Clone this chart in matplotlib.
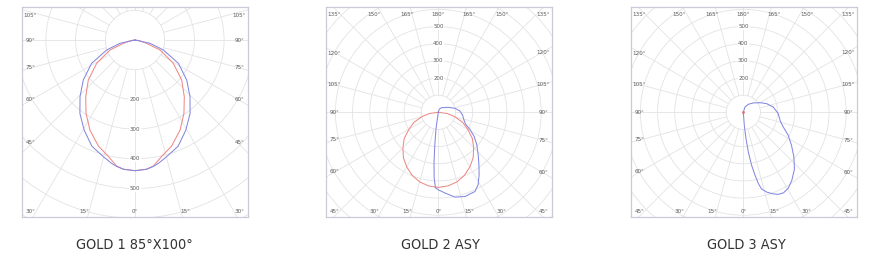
"""Three photometric polar diagrams (GOLD 1 / 2 / 3), drawn on plain axes
with the polar grid clipped to a rectangular frame."""
import numpy as np
import matplotlib
matplotlib.use("Agg")
import matplotlib.pyplot as plt
from matplotlib.patches import Circle

W, H = 883, 278
FONT = dict(family="DejaVu Sans", stretch="condensed")

# angles in degrees from nadir (0 = straight down, + = right side), intensity in cd
# GOLD 1 85°X100° - both planes symmetric, half-plane readings
G1_BLUE_ANG = [0, 5, 8.3, 10.7, 15.2, 22.1, 29.5, 36.9, 44.1, 52.3, 61.7, 70.6, 77.5, 90]
G1_BLUE_CD = [440, 437, 430, 423, 407, 386, 348, 309, 266, 220, 166, 101, 52, 0]
G1_RED_ANG = [0, 5, 8.3, 12.9, 19, 26.6, 33.7, 41, 49.4, 58.7, 68.2, 74, 82, 90]
G1_RED_CD = [440, 437, 429, 402, 378, 339, 297, 253, 207, 151, 91, 41, 15, 0]

# GOLD 2 ASY - red plane symmetric (half-plane), blue plane asymmetric
G2_RED_ANG = [0, 7.5, 15, 22.5, 30, 37.5, 45, 52.5, 60, 67.5, 75, 82.5, 90]
G2_RED_CD = [438, 433, 420, 398, 368, 334, 292, 250, 198, 154, 100, 52, 0]
G2_BLUE_ANG = [-12, -8, -6, -4.8, -3.6, -2.2, 0, 4.7, 11.1, 17.6, 24.8, 28.8,
               33.2, 37.7, 43.2, 49.8, 55.9, 61.8, 66.3, 73.4, 83.7, 93.5,
               103.5, 116.6, 144.5, 163, 180]
G2_BLUE_CD = [0, 95, 200, 300, 384, 440, 452, 472, 504, 515, 509, 482,
              435, 387, 340, 294, 253, 209, 174, 156, 142, 126,
              100, 65, 33, 20, 0]

# GOLD 3 ASY - red plane is only a dot at the origin
G3_RED_ANG = [0]
G3_RED_CD = [0]
G3_BLUE_ANG = [0, 4.4, 5.8, 7.2, 8.9, 10.5, 11.9, 13.4, 16.5, 20, 23, 26.5, 30.7,
               35.4, 42, 48.6, 55.7, 62.9, 69.9, 76.5, 87.8, 100, 110.4, 120.1,
               133, 148, 162.6, 180]
G3_BLUE_CD = [0, 76, 154, 232, 312, 372, 424, 460, 486, 506, 520, 525, 514,
              488, 446, 393, 340, 294, 248, 222, 204, 177, 145, 112,
              80, 55, 32, 0]

TITLES = ["GOLD 1 85°X100°", "GOLD 2 ASY", "GOLD 3 ASY"]
RING_LABELS = [200, 300, 400, 500]

BLUE, RED = "#8488e0", "#ee8a86"
GRID, FRAME, TXT = "#e3e3e6", "#c9ccd8", "#5a5a5a"


def mirror(ang, cd):
    return ([-a for a in ang[:0:-1]] + list(ang), list(cd[:0:-1]) + list(cd))


def to_xy(ang, cd):
    a = np.radians(ang)
    cd = np.asarray(cd, float)
    return cd * np.sin(a), -cd * np.cos(a)


def panel(fig, frame, centre, scale, rmax, ring_dir, angles, curves, title, tx):
    x0, y0, x1, y1 = frame
    cx, cy = centre
    ax = fig.add_axes([x0 / W, 1 - y1 / H, (x1 - x0) / W, (y1 - y0) / H])
    ax.set_xlim((x0 - cx) / scale, (x1 - cx) / scale)
    ax.set_ylim((cy - y1) / scale, (cy - y0) / scale)
    ax.set_xticks([]); ax.set_yticks([])
    for s in ax.spines.values():
        s.set_color(FRAME); s.set_linewidth(0.9)

    # polar grid
    for r in range(100, rmax + 1, 100):
        ax.add_patch(Circle((0, 0), r, fill=False, ec=GRID, lw=0.6, zorder=1))
    for a in range(0, 360, 15):
        xs, ys = to_xy([a, a], [100, rmax])
        ax.plot(xs, ys, color=GRID, lw=0.6, zorder=1)

    for ang, cd, col in curves:
        xs, ys = to_xy(ang, cd)
        if len(ang) == 1:
            ax.plot(xs, ys, "o", color=col, ms=1.2, zorder=3)
        else:
            ax.plot(xs, ys, color=col, lw=0.75, zorder=3)

    for v in RING_LABELS:
        ax.text(0, ring_dir * v, str(v), ha="center", va="center", fontsize=4.3,
                color=TXT, zorder=4, bbox=dict(fc="white", ec="none", pad=0.4),
                **FONT)

    # angle labels along the frame
    for a in angles:
        dx, dy = np.sin(np.radians(a)), np.cos(np.radians(a))  # dy: pixels down
        tx_side = (x0 - cx) / dx if dx < -1e-9 else (x1 - cx) / dx if dx > 1e-9 else np.inf
        ty_side = (y1 - cy) / dy if dy > 1e-9 else (y0 - cy) / dy if dy < -1e-9 else np.inf
        if tx_side < ty_side:
            px = x0 + 8.5 if dx < 0 else x1 - 8.5
            t = ((x0 + 10) - cx) / dx if dx < 0 else ((x1 - 10) - cx) / dx
            py = min(max(cy + dy * t, y0 + 8.5), y1 - 5.5)
        else:
            py = y1 - 5.3 if dy > 0 else y0 + 7.3
            px = cx + dx * ty_side + (3 if dx > 1e-9 else -3 if dx < -1e-9 else 0)
            px = min(max(px, x0 + 8.5), x1 - 8.5)
        ax.text((px - cx) / scale, (cy - py) / scale, f"{abs(a)}°", ha="center",
                va="center", fontsize=4.5, color=TXT, zorder=4, **FONT)

    fig.text(tx / W, 1 - 248.7 / H, title, ha="center", va="baseline",
             fontsize=10.4, color="#333333", **FONT)


fig = plt.figure(figsize=(W / 100, H / 100), dpi=100)

b1 = mirror(G1_BLUE_ANG, G1_BLUE_CD)
r1 = mirror(G1_RED_ANG, G1_RED_CD)
r2 = mirror(G2_RED_ANG, G2_RED_CD)

panel(fig, (22, 7, 248, 217), (135, 40), 0.297, 800, -1, range(-105, 106, 15),
      [(*r1, RED), (*b1, BLUE)], TITLES[0], 134.5)
panel(fig, (326, 7, 552, 217), (438.3, 112.3), 0.1715, 1000, 1, range(-180, 180, 15),
      [(*r2, RED), (G2_BLUE_ANG, G2_BLUE_CD, BLUE)], TITLES[1], 440)
panel(fig, (631, 7, 857, 217), (743.3, 112.3), 0.1715, 1000, 1, range(-180, 180, 15),
      [(G3_RED_ANG, G3_RED_CD, RED), (G3_BLUE_ANG, G3_BLUE_CD, BLUE)], TITLES[2], 746.5)

fig.savefig("out.png", dpi=100, facecolor="white")
